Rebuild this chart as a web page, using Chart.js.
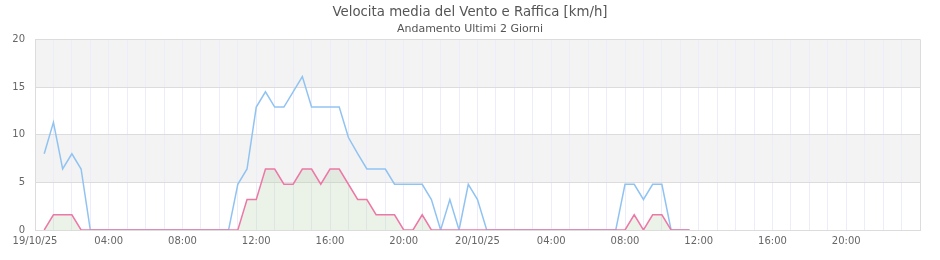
<!DOCTYPE html>
<html>
<head>
<meta charset="utf-8">
<script src="https://cdn.jsdelivr.net/npm/chart.js@4"></script>
<style>
  body { margin: 0; background: #fff; }
</style>
</head>
<body>
<canvas id="windChart" width="940" height="260"></canvas>
<script>
// hours since 19/10/25 00:00, one reading every half hour
const hours = [
    0.5, 1, 1.5, 2, 2.5, 3, 3.5, 4, 4.5, 5, 5.5, 6, 6.5, 7, 7.5, 8, 8.5, 9, 9.5, 10,
    10.5, 11, 11.5, 12, 12.5, 13, 13.5, 14, 14.5, 15, 15.5, 16, 16.5, 17, 17.5, 18, 18.5, 19, 19.5, 20,
    20.5, 21, 21.5, 22, 22.5, 23, 23.5, 24, 24.5, 25, 25.5, 26, 26.5, 27, 27.5, 28, 28.5, 29, 29.5, 30,
    30.5, 31, 31.5, 32, 32.5, 33, 33.5, 34, 34.5, 35, 35.5
];

// gust (raffica) km/h
const gust = [
    8.0, 11.3, 6.4, 8.0, 6.4, 0,
    0, 0, 0, 0, 0, 0, 0, 0, 0, 0, 0, 0, 0, 0, 0,
    4.8, 6.4, 12.9, 14.5, 12.9, 12.9, 14.5, 16.1, 12.9, 12.9, 12.9, 12.9, 9.7, 8.0,
    6.4, 6.4, 6.4, 4.8, 4.8, 4.8, 4.8, 3.2, 0, 3.2, 0, 4.8, 3.2, 0,
    0, 0, 0, 0, 0, 0, 0, 0, 0, 0, 0, 0, 0, 0,
    4.8, 4.8, 3.2, 4.8, 4.8, 0, 0, 0
];

// average speed (velocita media) km/h
const avgSpeed = [
    0, 1.6, 1.6, 1.6, 0,
    0, 0, 0, 0, 0, 0, 0, 0, 0, 0, 0, 0, 0, 0, 0, 0,
    0, 3.2, 3.2, 6.4, 6.4, 4.8, 4.8, 6.4, 6.4, 4.8, 6.4, 6.4, 4.8, 3.2, 3.2,
    1.6, 1.6, 1.6, 0, 0, 1.6, 0,
    0, 0, 0, 0, 0, 0, 0, 0, 0, 0, 0, 0, 0, 0, 0, 0, 0, 0, 0, 0, 0,
    1.6, 0, 1.6, 1.6, 0, 0, 0
];

const xTickLabels = ["19/10/25", "04:00", "08:00", "12:00", "16:00", "20:00",
                     "20/10/25", "04:00", "08:00", "12:00", "16:00", "20:00"];
const yTicks = [0, 5, 10, 15, 20];
const shadedBands = [[5, 10], [15, 20]];

// grey bands behind the grid
const bandsPlugin = {
    id: "bands",
    beforeDraw(chart) {
        const { ctx, chartArea, scales } = chart;
        ctx.save();
        ctx.fillStyle = "#f3f3f3";
        shadedBands.forEach(([lo, hi]) => {
            const top = scales.y.getPixelForValue(hi);
            const bot = scales.y.getPixelForValue(lo);
            ctx.fillRect(chartArea.left, top, chartArea.right - chartArea.left, bot - top);
        });
        ctx.restore();
    }
};

Chart.defaults.font.family = "'DejaVu Sans', sans-serif";
Chart.defaults.color = "#666";

const ctx = document.getElementById("windChart").getContext("2d");
new Chart(ctx, {
    type: "line",
    data: {
        labels: hours,
        datasets: [{
            label: "Velocita media",
            data: hours.map((h, i) => ({ x: h, y: avgSpeed[i] })),
            borderColor: "rgb(236, 120, 168)",
            backgroundColor: "rgba(190, 215, 180, 0.3)",
            borderWidth: 1.5,
            pointRadius: 0,
            fill: "origin",
            tension: 0
        }, {
            label: "Raffica",
            data: hours.map((h, i) => ({ x: h, y: gust[i] })),
            borderColor: "rgb(145, 195, 242)",
            borderWidth: 1.5,
            pointRadius: 0,
            fill: false,
            tension: 0
        }]
    },
    options: {
        responsive: false,
        animation: false,
        layout: { padding: 0 },
        plugins: {
            legend: { display: false },
            tooltip: { enabled: false },
            title: {
                display: true,
                text: "Velocita media del Vento e Raffica [km/h]",
                color: "#555",
                font: { size: 13.3, weight: "normal" },
                padding: { top: 5, bottom: 0 }
            },
            subtitle: {
                display: true,
                text: "Andamento Ultimi 2 Giorni",
                color: "#555",
                font: { size: 11 },
                padding: { top: 1.4, bottom: 3.8 }
            }
        },
        scales: {
            x: {
                type: "linear",
                min: 0,
                max: 48,
                afterBuildTicks: (scale) => {
                    scale.ticks = [];
                    for (let h = 0; h <= 48; h++) scale.ticks.push({ value: h });
                },
                ticks: {
                    autoSkip: false,
                    maxRotation: 0,
                    padding: 5,
                    font: { size: 10 },
                    callback: (v) => (v % 4 === 0 && v < 48 ? xTickLabels[v / 4] : "")
                },
                grid: {
                    drawTicks: false,
                    color: (c) => (c.tick && c.tick.value === 48 ? "#dcdcdc" : "#ececfa")
                },
                border: { color: "#dcdcdc" },
                afterFit: (scale) => { scale.height = 30; }
            },
            y: {
                min: 0,
                max: 20,
                afterBuildTicks: (scale) => {
                    scale.ticks = yTicks.map((v) => ({ value: v }));
                },
                ticks: { padding: 10, font: { size: 10 } },
                grid: { drawTicks: false, color: "#dcdcdc" },
                border: { color: "#dcdcdc" },
                afterFit: (scale) => { scale.width = 35; }
            },
            // empty right-hand axis, only keeps the margin on the right
            yRight: {
                position: "right",
                min: 0,
                max: 20,
                ticks: { display: false },
                grid: { display: false, drawTicks: false },
                border: { display: false },
                afterFit: (scale) => { scale.width = 20; }
            }
        }
    },
    plugins: [bandsPlugin]
});
</script>
</body>
</html>
